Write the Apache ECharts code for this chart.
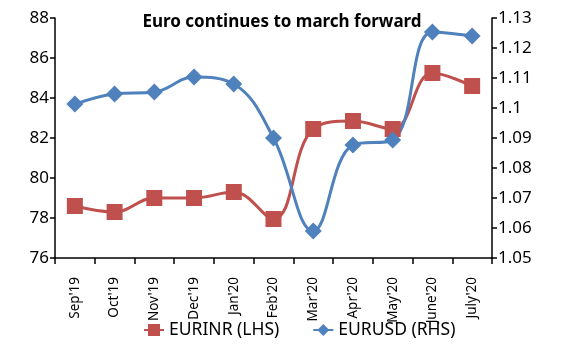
<!DOCTYPE html>
<html>
<head>
    <meta charset="utf-8">
    <script src="https://cdn.jsdelivr.net/npm/echarts@6/dist/echarts.min.js"></script>
    <style>
        body { margin: 0; background: #fff; }
        #container { width: 563px; height: 352px; }
    </style>
</head>
<body>
<div id="container"></div>
<script>
    // months on the x axis
    let months = ["Sep'19", "Oct'19", "Nov'19", "Dec'19", "Jan'20", "Feb'20", "Mar'20", "Apr'20", "May'20", "June'20", "July'20"];
    // EURINR, left axis
    let eurInr = [78.6, 78.3, 79.0, 79.0, 79.3, 77.95, 82.45, 82.85, 82.45, 85.25, 84.6];
    // EURUSD, right axis
    let eurUsd = [1.1013, 1.1047, 1.1053, 1.1103, 1.108, 1.090, 1.059, 1.0877, 1.0893, 1.1253, 1.124];

    let font = "'Noto Sans', sans-serif";
    let myChart = echarts.init(document.getElementById("container"));
    let option = {
        animation: false,
        textStyle: { fontFamily: font },
        title: {
            text: "Euro continues to march forward",
            left: 277,
            textAlign: "center",
            top: 9,
            textStyle: { fontSize: 17, fontWeight: "bold", color: "#000", fontFamily: font }
        },
        grid: { left: 55, right: 71, top: 18, bottom: 94 },
        legend: {
            left: 138,
            top: 316,
            itemWidth: 20,
            itemHeight: 15,
            itemGap: 33,
            textStyle: { fontSize: 17.5, color: "#000", fontFamily: font },
            data: ["EURINR (LHS)", "EURUSD (RHS)"]
        },
        xAxis: {
            type: "category",
            data: months,
            boundaryGap: true,
            axisLine: { lineStyle: { color: "#000", width: 1.5 } },
            axisTick: { show: true, length: 6, inside: false, lineStyle: { color: "#000", width: 1.5 } },
            axisLabel: { rotate: 90, margin: 19, fontSize: 13.5, color: "#000", interval: 0 }
        },
        yAxis: [{
            type: "value",
            min: 76,
            max: 88,
            interval: 2,
            splitLine: { show: false },
            axisLine: { show: true, lineStyle: { color: "#000", width: 1.5 } },
            axisTick: { show: true, length: 5, lineStyle: { color: "#000", width: 1.5 } },
            axisLabel: { fontSize: 17, color: "#000", margin: 6 }
        }, {
            type: "value",
            min: 1.05,
            max: 1.13,
            interval: 0.01,
            splitLine: { show: false },
            axisLine: { show: true, lineStyle: { color: "#000", width: 1.5 } },
            axisTick: { show: true, length: 5, lineStyle: { color: "#000", width: 1.5 } },
            axisLabel: {
                fontSize: 17, color: "#000", margin: 6,
                formatter: function (v) { return String(parseFloat(v.toFixed(2))); }
            }
        }],
        series: [{
            name: "EURINR (LHS)",
            type: "line",
            yAxisIndex: 0,
            data: eurInr,
            smooth: 0.4,
            symbol: "rect",
            symbolSize: 16,
            lineStyle: { color: "#C0504D", width: 3 },
            itemStyle: { color: "#C0504D" }
        }, {
            name: "EURUSD (RHS)",
            type: "line",
            yAxisIndex: 1,
            data: eurUsd,
            smooth: 0.4,
            symbol: "diamond",
            symbolSize: 17,
            lineStyle: { color: "#4F81BD", width: 3 },
            itemStyle: { color: "#4F81BD" }
        }]
    };
    myChart.setOption(option);
</script>
</body>
</html>
